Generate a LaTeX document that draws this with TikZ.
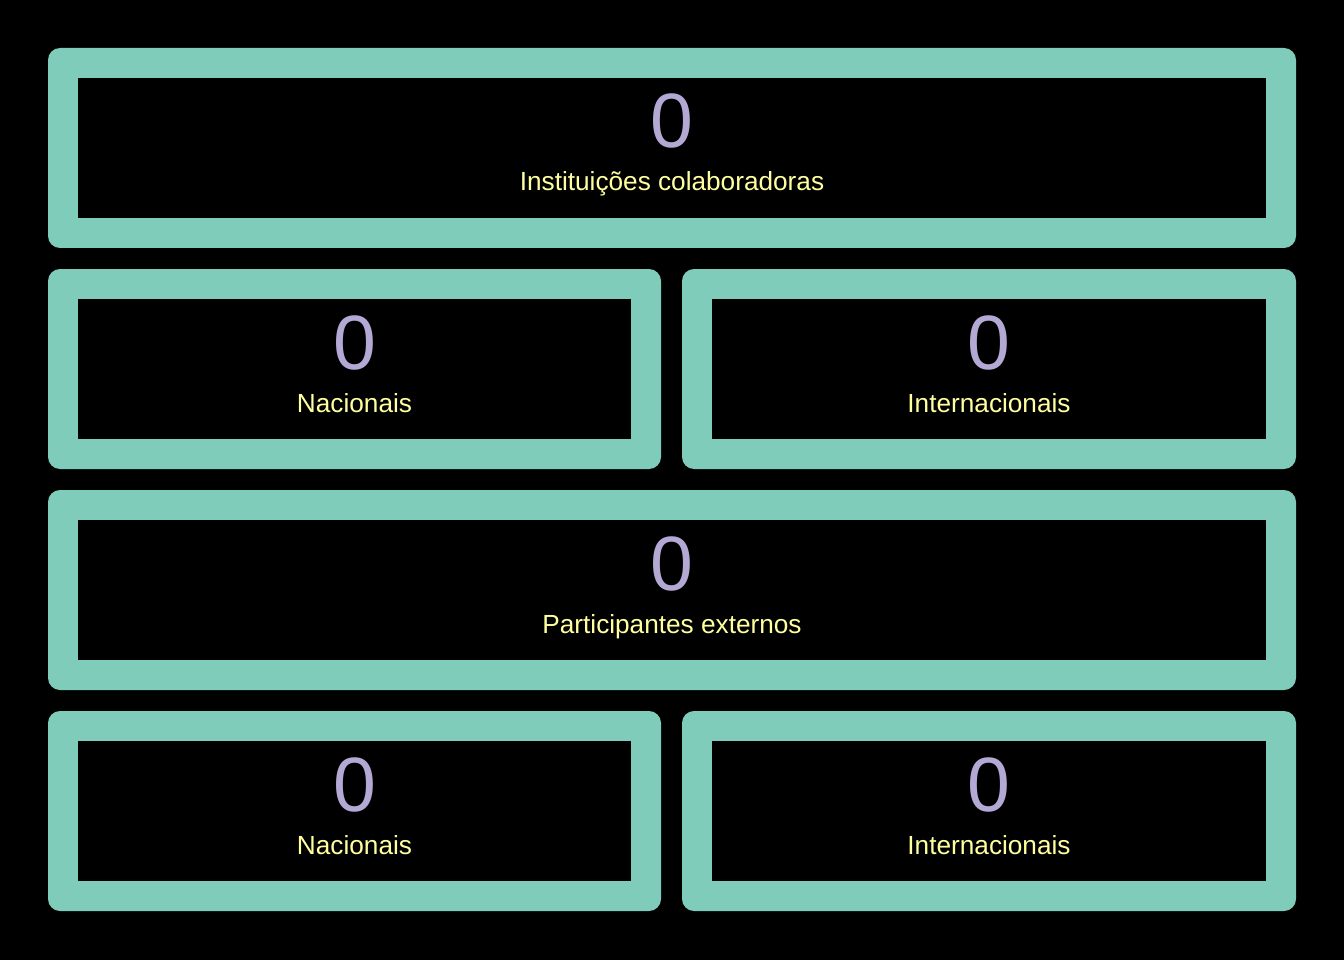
\documentclass[tikz,border=0pt]{standalone}
\usepackage{fontspec}
\setmainfont{Liberation Sans}
\definecolor{framecol}{HTML}{80CCBB}
\definecolor{numcol}{HTML}{B3A9D4}
\definecolor{labcol}{HTML}{FFFFA0}
\begin{document}
\begin{tikzpicture}[x=1pt, y=-1pt,
    outerbox/.style={rectangle,rounded corners=12pt,fill=framecol,inner sep=0pt,minimum height=200pt},
    innerbox/.style={rectangle,fill=black,inner sep=0pt,minimum height=140pt},
    num/.style={anchor=base,text=numcol,inner sep=0pt,font=\fontsize{77}{80}\selectfont},
    lab/.style={anchor=base,text=labcol,inner sep=0pt,font=\fontsize{26.2}{30}\selectfont}]
    % Background
    \fill[black] (0,0) rectangle (1344,960);
    \useasboundingbox (0,0) rectangle (1344,960);

    % Row 1 - institutions
    \node[outerbox,minimum width=1248pt] (instbox) at (672,148) {};
    \node[innerbox,minimum width=1188pt] (instin) at (672,148) {};
    \node[num] (instnum) at (672,148) {0};
    \node[lab] (insttxt) at (672,191) {Instituições colaboradoras};

    % Row 2 - institutions split
    \node[outerbox,minimum width=613pt] (instnacbox) at (354.5,369) {};
    \node[innerbox,minimum width=553pt] (instnacin) at (354.5,369) {};
    \node[num] (instnacnum) at (354.5,369) {0};
    \node[lab] (instnactxt) at (354.5,412) {Nacionais};
    \node[outerbox,minimum width=614pt] (instintbox) at (989,369) {};
    \node[innerbox,minimum width=554pt] (instintin) at (989,369) {};
    \node[num] (instintnum) at (989,369) {0};
    \node[lab] (instinttxt) at (989,412) {Internacionais};

    % Row 3 - participants
    \node[outerbox,minimum width=1248pt] (partbox) at (672,590) {};
    \node[innerbox,minimum width=1188pt] (partin) at (672,590) {};
    \node[num] (partnum) at (672,590) {0};
    \node[lab] (parttxt) at (672,633) {Participantes externos};

    % Row 4 - participants split
    \node[outerbox,minimum width=613pt] (partnacbox) at (354.5,811) {};
    \node[innerbox,minimum width=553pt] (partnacin) at (354.5,811) {};
    \node[num] (partnacnum) at (354.5,811) {0};
    \node[lab] (partnactxt) at (354.5,854) {Nacionais};
    \node[outerbox,minimum width=614pt] (partintbox) at (989,811) {};
    \node[innerbox,minimum width=554pt] (partintin) at (989,811) {};
    \node[num] (partintnum) at (989,811) {0};
    \node[lab] (partinttxt) at (989,854) {Internacionais};
\end{tikzpicture}
\end{document}
